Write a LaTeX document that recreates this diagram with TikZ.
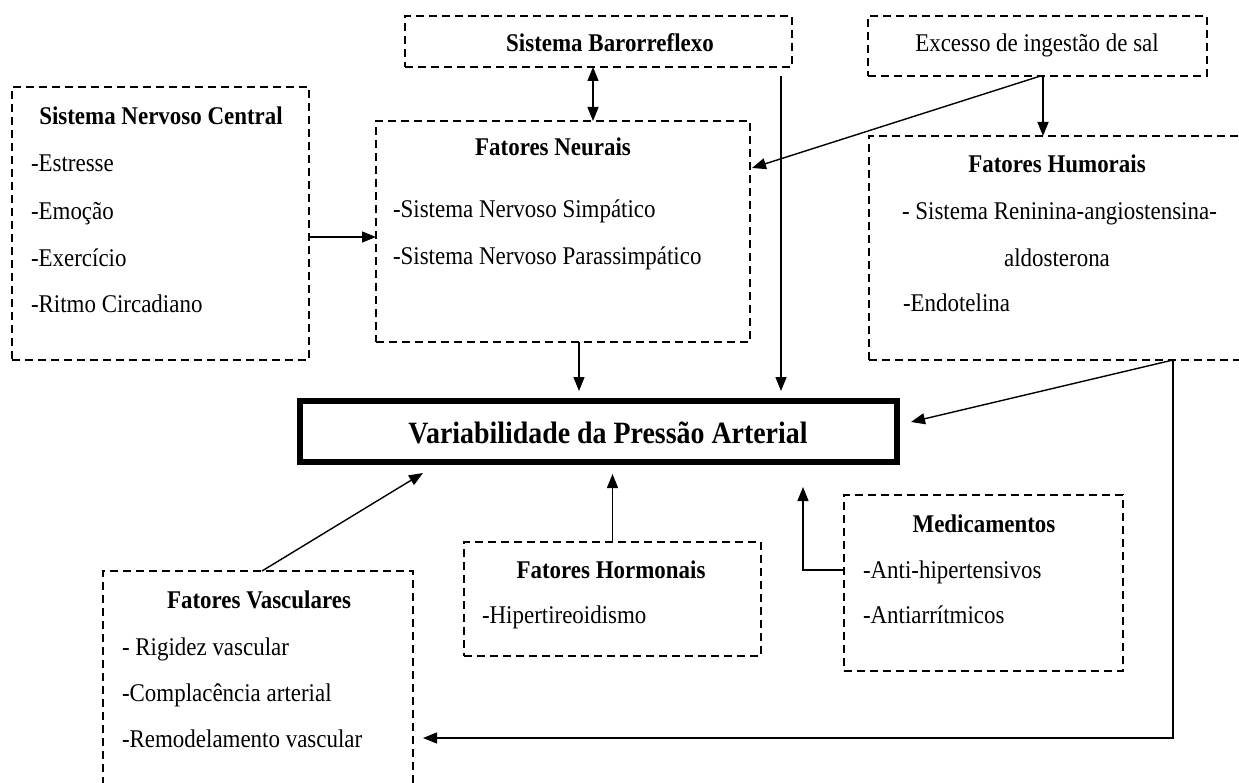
\documentclass[tikz,border=0pt]{standalone}
\usepackage{fontspec}
\setmainfont{Liberation Serif}[FakeStretch=0.9]
\usetikzlibrary{arrows.meta}
\tikzset{
  dbox/.style={draw, dash pattern=on 8pt off 5pt, line width=1.5pt, inner sep=0pt, outer sep=0pt},
  mainbox/.style={draw, line width=6pt, inner sep=0pt, outer sep=0pt},
  txt/.style={inner sep=0pt, outer sep=0pt, font=\fontsize{25.5pt}{30pt}\selectfont},
  head/.style={txt, anchor=base, font=\fontsize{25.5pt}{30pt}\selectfont\bfseries},
  item/.style={txt, anchor=base west},
  arr/.style={line width=1.4pt, -{Triangle[length=14pt,width=11pt]}},
  darr/.style={line width=1.4pt, {Triangle[length=14pt,width=11pt]}-{Triangle[length=14pt,width=11pt]}},
  conn/.style={line width=1.4pt}
}
\begin{document}
\begin{tikzpicture}[x=1pt,y=-1pt]
\useasboundingbox[fill=white] (0,0) rectangle (1239,783);

% boxes
\node[dbox, minimum width=387pt, minimum height=51pt] (baro) at (598.5,41.5) {};
\node[dbox, minimum width=339pt, minimum height=60pt] (salt) at (1037.5,46) {};
\node[dbox, minimum width=297pt, minimum height=273pt] (snc) at (160.5,223.5) {};
\node[dbox, minimum width=374pt, minimum height=221pt] (neur) at (563,231.5) {};
\node[dbox, minimum width=391pt, minimum height=224pt] (humor) at (1064.5,248) {};
\node[mainbox, minimum width=597pt, minimum height=61pt] (var) at (598.5,431.5) {};
\node[dbox, minimum width=310pt, minimum height=240pt] (vasc) at (258,691) {};
\node[dbox, minimum width=297pt, minimum height=114pt] (horm) at (612.5,599) {};
\node[dbox, minimum width=279pt, minimum height=176pt] (med) at (983.5,583) {};

% texts
\node[head] (tbaro) at (610,52) {Sistema Barorreflexo};
\node[txt, anchor=base] (tsalt) at (1037,52) {Excesso de ingestão de sal};

\node[head] (tsnc) at (161,125) {Sistema Nervoso Central};
\node[item] (snc1) at (31,172) {-Estresse};
\node[item] (snc2) at (31,220) {-Emoção};
\node[item] (snc3) at (31,267) {-Exercício};
\node[item] (snc4) at (31,313) {-Ritmo Circadiano};

\node[head] (tneur) at (553,156) {Fatores Neurais};
\node[item] (neur1) at (393,218) {-Sistema Nervoso Simpático};
\node[item] (neur2) at (393,265) {-Sistema Nervoso Parassimpático};

\node[head] (thumor) at (1057,173) {Fatores Humorais};
\node[item] (humor1) at (902,220) {- Sistema Reninina-angiostensina-};
\node[txt, anchor=base] (humor2) at (1057,267) {aldosterona};
\node[item] (humor3) at (903,312) {-Endotelina};

\node[txt, anchor=base, font=\fontsize{31pt}{36pt}\selectfont\bfseries] (tvar) at (608,443) {Variabilidade da Pressão Arterial};

\node[head] (tvasc) at (259,608) {Fatores Vasculares};
\node[item] (vasc1) at (122,655) {- Rigidez vascular};
\node[item] (vasc2) at (122,701) {-Complacência arterial};
\node[item] (vasc3) at (122,747) {-Remodelamento vascular};

\node[head] (thorm) at (611,578) {Fatores Hormonais};
\node[item] (horm1) at (482,623) {-Hipertireoidismo};

\node[head] (tmed) at (984,532) {Medicamentos};
\node[item] (med1) at (863,578) {-Anti-hipertensivos};
\node[item] (med2) at (863,623) {-Antiarrítmicos};

% connectors
\draw[darr] ([xshift=-5.5pt]baro.south) -- ([xshift=-5.5pt]baro.south |- neur.north);
\coordinate (b1) at ([xshift=182.5pt,yshift=-9pt]baro.south);
\draw[arr, shorten >=10pt] (b1) -- (b1 |- var.north);
\draw[arr, shorten >=10pt] ([xshift=16pt]neur.south) -- ([xshift=16pt]neur.south |- var.north);
\draw[arr] ([yshift=-13.5pt]snc.east) -- ([yshift=-13.5pt]snc.east -| neur.west);
\draw[arr] ([xshift=5.5pt]salt.south) -- ([xshift=5.5pt]salt.south |- humor.north);
\draw[arr] ([xshift=3pt]salt.south) -- ([xshift=2pt,yshift=63.5pt]neur.east);
\draw[arr] ([xshift=108.5pt]humor.south) -- ([xshift=14pt,yshift=9.5pt]var.east);
\draw[arr] ([xshift=108.5pt]humor.south) |- ([xshift=10pt,yshift=-47pt]vasc.east);
\draw[arr] ([xshift=4pt]vasc.north) -- ([xshift=-175.5pt,yshift=-11pt]var.south);
\draw[arr, shorten >=12pt] (horm.north) -- (horm.north |- var.south);
\draw[arr, shorten >=25pt] ([yshift=13pt]med.west) -| ([xshift=204.5pt]var.south);
\end{tikzpicture}
\end{document}
